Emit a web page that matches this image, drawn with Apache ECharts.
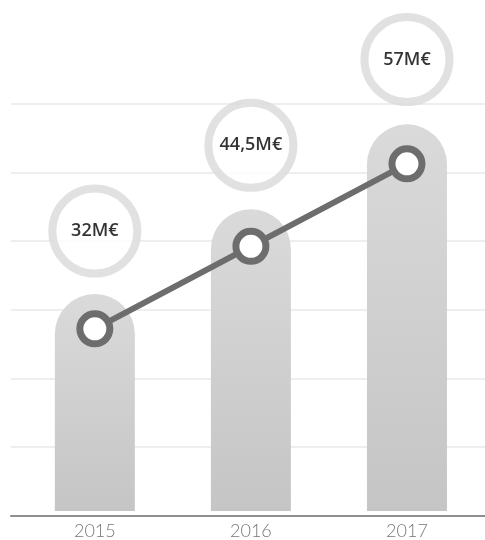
<!DOCTYPE html>
<html>
<head>
<meta charset="utf-8">
<script src="https://cdn.jsdelivr.net/npm/echarts@6/dist/echarts.min.js"></script>
<style>
html,body{margin:0;padding:0;background:#fff;}
#c{width:485px;height:540px;}
</style>
</head>
<body>
<div id="c"></div>
<script>
const years = ['2015', '2016', '2017'];
const revenue = [32, 44.5, 57];
const revenueLabels = ['32M€', '44,5M€', '57M€'];
const yTicks = [0, 10, 20, 30, 40, 50, 60];

const chart = echarts.init(document.getElementById('c'), null, {renderer: 'canvas'});
const plotTop = 104, plotH = 411.5;
const barLeft = 16.8, barW = 471;
const yMin = yTicks[0], yMax = yTicks[yTicks.length - 1], yStep = yTicks[1] - yTicks[0];

function hiddenY(idx) {
  return {type: 'value', gridIndex: idx, min: yMin, max: yMax, interval: yStep, show: false};
}
function hiddenX(idx) {
  return {type: 'category', gridIndex: idx, data: years, show: false};
}

chart.setOption({
  animation: false,
  backgroundColor: '#ffffff',
  grid: [
    {left: 11, right: 0, top: plotTop, height: plotH},
    {left: barLeft, width: barW, top: plotTop, height: plotH},
    {left: barLeft, width: barW, top: plotTop + 40, height: plotH},
    {left: barLeft, width: barW, top: plotTop - 65, height: plotH}
  ],
  xAxis: [
    {type: 'value', gridIndex: 0, min: 0, max: 1, axisLabel: {show: false}, axisTick: {show: false},
     splitLine: {show: false}, axisLine: {show: true, onZero: false, lineStyle: {color: '#8f8f8f', width: 2}}},
    {type: 'category', gridIndex: 1, data: years, axisLine: {show: false}, axisTick: {show: false},
     axisLabel: {color: '#777777', fontFamily: 'Lato', fontWeight: 300, fontSize: 18, margin: 11}},
    hiddenX(2),
    hiddenX(3)
  ],
  yAxis: [
    {type: 'value', gridIndex: 0, min: yMin, max: yMax, interval: yStep, axisLabel: {show: false},
     axisLine: {show: false}, axisTick: {show: false},
     splitLine: {show: true, lineStyle: {color: '#e9e9e9', width: 1.5}}},
    hiddenY(1),
    hiddenY(2),
    hiddenY(3)
  ],
  series: [
    {
      type: 'bar', xAxisIndex: 1, yAxisIndex: 1, data: revenue, barWidth: 80, z: 2,
      itemStyle: {
        borderRadius: [40, 40, 0, 0],
        color: new echarts.graphic.LinearGradient(0, 0, 0, 1, [
          {offset: 0, color: '#dadada'}, {offset: 1, color: '#c5c5c5'}
        ])
      }
    },
    {
      type: 'line', xAxisIndex: 2, yAxisIndex: 2, data: revenue, z: 5,
      lineStyle: {color: '#6d6d6d', width: 6},
      symbol: 'circle', symbolSize: 30,
      itemStyle: {color: '#ffffff', borderColor: '#6d6d6d', borderWidth: 7}
    },
    {
      type: 'scatter', xAxisIndex: 3, yAxisIndex: 3, data: revenue, z: 6,
      symbol: 'circle', symbolSize: 85,
      itemStyle: {color: '#ffffff', borderColor: '#dadada', borderWidth: 8},
      label: {
        show: true, position: 'inside',
        formatter: p => revenueLabels[p.dataIndex],
        color: '#000000', fontFamily: 'Open Sans', fontWeight: 600, fontSize: 18
      }
    }
  ]
});
</script>
</body>
</html>
